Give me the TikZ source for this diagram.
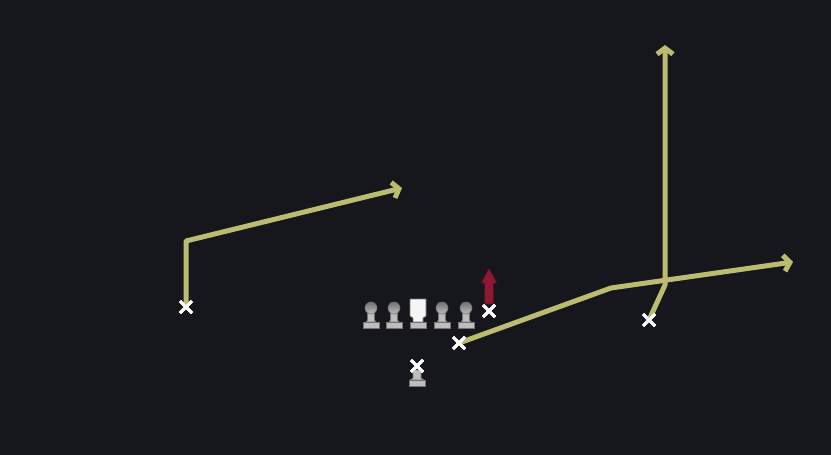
\documentclass[tikz,border=0pt]{standalone}
\usetikzlibrary{arrows.meta,shapes.misc}
\definecolor{bg}{RGB}{21,23,28}
\definecolor{route}{RGB}{188,188,112}
\definecolor{blockred}{RGB}{140,24,52}
\definecolor{lman}{RGB}{190,190,190}
\definecolor{lhead}{RGB}{140,140,140}
\begin{document}
\begin{tikzpicture}[x=1pt,y=-1pt,
  xmark/.style={cross out,draw=white,line width=3pt,minimum size=9pt,inner sep=0pt},
  routeline/.style={draw=route,line width=5pt,line join=round,line cap=round},
  routetip/.style={-{Straight Barb[length=6pt,width=16pt]}},
  lmanfill/.style={fill=lman,draw=lman!60!black,line width=0.6pt}]
\fill[bg] (0,0) rectangle (831,455);
\useasboundingbox (0,0) rectangle (831,455);

% players (X marks)
\node[xmark] (wl) at (186,307) {};
\node[xmark] (te) at (489,311) {};
\node[xmark] (sl) at (459,343) {};
\node[xmark] (wr) at (649,320) {};
\node[xmark] (qb) at (417,366) {};

% route waypoints
\coordinate (wlbend) at (186,241);
\coordinate (wlend) at (402,188);
\coordinate (slbend) at (611,288);
\coordinate (slend) at (793,262);
\coordinate (wrbend) at (665,285);
\coordinate (wrend) at (665,45);
\coordinate (teend) at (489,268);

% routes
\draw[routeline,routetip] (wl.center) -- (wlbend) -- (wlend);
\draw[routeline,routetip] (sl.center) -- (slbend) -- (slend);
\draw[routeline,routetip] (wr.center) -- (wrbend) -- (wrend);

% block arrow
\fill[blockred,draw=blockred!60!black,line width=0.8pt,rounded corners=1pt]
  (484.5,304) -- (484.5,283) -- (481,283) -- (teend) -- (497,283) -- (493.5,283) -- (493.5,304) -- cycle;

% redraw X marks on top
\foreach \n in {wl,te,sl,wr}{
  \node[xmark] at (\n) {};
}

% linemen
\foreach \x in {371,394,442,466}{
  \fill[lmanfill] (\x-3.5,308) -- (\x+3.5,308) -- (\x+3.5,320) -- (\x+5,322) -- (\x-5,322) -- (\x-3.5,320) -- cycle;
  \fill[lmanfill] (\x-8,322) rectangle (\x+8,328);
  \shade[top color=lhead!80!black,bottom color=lman,draw=lman!60!black,line width=0.6pt] (\x,308) circle (6);
}
% center
\fill[fill=white!92!gray,draw=lman!60!black,line width=0.6pt]
  (410,299) -- (426,299) -- (426,316) -- (423,318) -- (423,322) -- (413,322) -- (413,318) -- (410,316) -- cycle;
\fill[lmanfill] (410,322) rectangle (426,328);

% QB stance
\fill[lmanfill] (413,370) -- (421,370) -- (421,378) -- (424,380) -- (410,380) -- (413,378) -- cycle;
\fill[lmanfill] (409,380) rectangle (425,386);
\node[xmark] at (qb) {};
\end{tikzpicture}
\end{document}
